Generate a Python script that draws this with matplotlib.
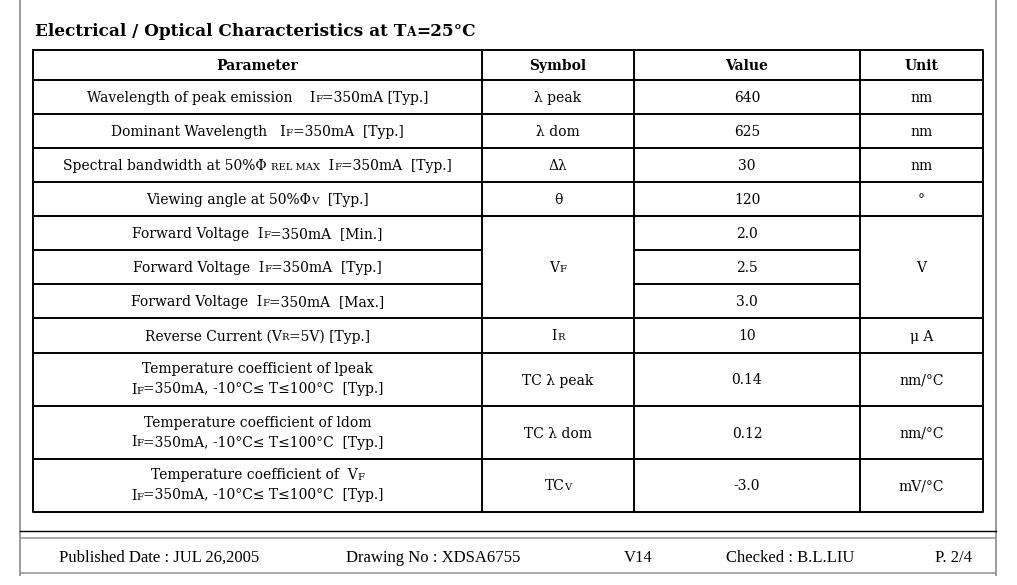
import re
import matplotlib
matplotlib.use("Agg")
import matplotlib.pyplot as plt

# === Table content ===
headers = ["Parameter", "Symbol", "Value", "Unit"]

# {..} marks the small-capital subscripts used in the datasheet
parameters = [
    ["Wavelength of peak emission    I{F}=350mA [Typ.]"],
    ["Dominant Wavelength   I{F}=350mA  [Typ.]"],
    ["Spectral bandwidth at 50%Φ {REL MAX}  I{F}=350mA  [Typ.]"],
    ["Viewing angle at 50%Φ{V}  [Typ.]"],
    ["Forward Voltage  I{F}=350mA  [Min.]"],
    ["Forward Voltage  I{F}=350mA  [Typ.]"],
    ["Forward Voltage  I{F}=350mA  [Max.]"],
    ["Reverse Current (V{R}=5V) [Typ.]"],
    ["Temperature coefficient of lpeak", "I{F}=350mA, -10°C≤ T≤100°C  [Typ.]"],
    ["Temperature coefficient of ldom", "I{F}=350mA, -10°C≤ T≤100°C  [Typ.]"],
    ["Temperature coefficient of  V{F}", "I{F}=350mA, -10°C≤ T≤100°C  [Typ.]"],
]
values = ["640", "625", "30", "120", "2.0", "2.5", "3.0", "10", "0.14", "0.12", "-3.0"]

# symbol / unit cells: (first row, last row, text)
symbols = [(0, 0, "λ peak"), (1, 1, "λ dom"), (2, 2, "Δλ"), (3, 3, "θ"),
           (4, 6, "V{F}"), (7, 7, "I{R}"), (8, 8, "TC λ peak"),
           (9, 9, "TC λ dom"), (10, 10, "TC{V}")]
units = [(0, 0, "nm"), (1, 1, "nm"), (2, 2, "nm"), (3, 3, "°"),
         (4, 6, "V"), (7, 7, "μ A"), (8, 8, "nm/°C"),
         (9, 9, "nm/°C"), (10, 10, "mV/°C")]

title = "Electrical / Optical Characteristics at T{A}=25°C"
footer = ["Published Date : JUL 26,2005", "Drawing No : XDSA6755", "V14",
          "Checked : B.L.LIU", "P. 2/4"]

# === Layout (pixels) ===
W, H = 1017, 585
col_x = [33, 482, 634, 860, 983]
row_y = [50, 80, 114, 148, 182, 216, 250, 284, 318, 353, 406, 459, 512]
SERIF = "DejaVu Serif"

fig = plt.figure(figsize=(W / 100, H / 100), dpi=100)
ax = fig.add_axes([0, 0, 1, 1])
ax.set_xlim(0, W)
ax.set_ylim(H, 0)
ax.axis("off")
renderer = fig.canvas.get_renderer()


def seg_width(s, size, weight, family):
    # width including leading/trailing spaces
    t = ax.text(0, 0, "|" + s + "|", fontsize=size, weight=weight, family=family)
    r = ax.text(0, 0, "||", fontsize=size, weight=weight, family=family)
    w = t.get_window_extent(renderer).width - r.get_window_extent(renderer).width
    t.remove()
    r.remove()
    return w


def rich(x, yc, s, size=10, ha="center", weight="normal", family=SERIF):
    segs = []
    for p in re.split(r"(\{[^}]*\})", s):
        if not p:
            continue
        if p.startswith("{"):
            segs.append((p[1:-1], size * 0.72))
        else:
            segs.append((p, size))
    widths = [seg_width(t, sz, weight, family) for t, sz in segs]
    total = sum(widths)
    x0 = x - total / 2 if ha == "center" else x
    base = yc + 0.36 * size * 100 / 72
    for (t, sz), w in zip(segs, widths):
        ax.text(x0, base, t, fontsize=sz, weight=weight, family=family,
                ha="left", va="baseline")
        x0 += w


# === Page frame ===
gray = "#9a9a9a"
ax.plot([20, 20], [0, 575], color=gray, lw=1.4)
ax.plot([996, 996], [0, 575], color=gray, lw=1.4)
ax.plot([20, 996], [531, 531], color="black", lw=1.0)
ax.plot([20, 996], [538, 538], color=gray, lw=1.2)
ax.plot([20, 996], [573, 573], color=gray, lw=1.2)

rich(35, 30, title, size=12.2, ha="left", weight="bold")

# === Table grid ===
lw = 1.4
ax.plot([col_x[0], col_x[-1], col_x[-1], col_x[0], col_x[0]],
        [row_y[0], row_y[0], row_y[-1], row_y[-1], row_y[0]], color="black", lw=lw)
for cx in col_x[1:-1]:
    ax.plot([cx, cx], [row_y[0], row_y[-1]], color="black", lw=lw)
ax.plot([col_x[0], col_x[-1]], [row_y[1], row_y[1]], color="black", lw=lw)

# horizontal lines: full width unless a merged cell spans it
merged_inner = {r for a, b, _ in symbols for r in range(a + 1, b + 1)}
for i in range(1, len(parameters)):
    y = row_y[i + 1]
    if i in merged_inner:
        ax.plot([col_x[0], col_x[1]], [y, y], color="black", lw=lw)
        ax.plot([col_x[2], col_x[3]], [y, y], color="black", lw=lw)
    else:
        ax.plot([col_x[0], col_x[-1]], [y, y], color="black", lw=lw)

# header
for j, h in enumerate(headers):
    rich((col_x[j] + col_x[j + 1]) / 2, (row_y[0] + row_y[1]) / 2, h, weight="bold")

# body
for i, lines in enumerate(parameters):
    yc = (row_y[i + 1] + row_y[i + 2]) / 2
    xc = (col_x[0] + col_x[1]) / 2
    if len(lines) == 1:
        rich(xc, yc, lines[0])
    else:
        rich(xc, yc - 11, lines[0])
        rich(xc, yc + 9, lines[1])
    rich((col_x[2] + col_x[3]) / 2, yc, values[i])

for col, cells in ((1, symbols), (3, units)):
    for a, b, s in cells:
        yc = (row_y[a + 1] + row_y[b + 2]) / 2
        rich((col_x[col] + col_x[col + 1]) / 2, yc, s)

# === Footer ===
foot_x = [59, 346, 624, 726, 935]
for fx, s in zip(foot_x, footer):
    rich(fx, 556, s, size=12, ha="left", family="Liberation Serif")

fig.savefig("out.png", dpi=100)
